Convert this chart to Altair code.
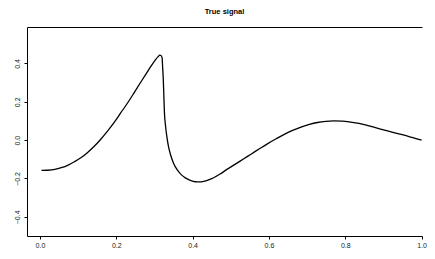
import altair as alt
import pandas as pd

x_vals = [0.004, 0.02, 0.039, 0.056, 0.074, 0.09, 0.108, 0.125, 0.143, 0.16,
          0.177, 0.195, 0.212, 0.23, 0.247, 0.264, 0.281, 0.292, 0.303, 0.309,
          0.314, 0.317, 0.320, 0.3215, 0.323, 0.3245, 0.326, 0.329, 0.333, 0.337,
          0.342, 0.350, 0.359, 0.370, 0.381, 0.394, 0.407, 0.418, 0.429, 0.442,
          0.455, 0.472, 0.489, 0.51, 0.532, 0.554, 0.576, 0.597, 0.619, 0.640,
          0.662, 0.684, 0.706, 0.727, 0.749, 0.770, 0.792, 0.814, 0.836, 0.857,
          0.879, 0.90, 0.922, 0.943, 0.965, 0.983, 1.0]
y_vals = [-0.158, -0.157, -0.153, -0.144, -0.130, -0.113, -0.091, -0.064, -0.031, 0.006,
          0.047, 0.094, 0.143, 0.195, 0.248, 0.302, 0.355, 0.389, 0.420, 0.434,
          0.443, 0.441, 0.430, 0.380, 0.325, 0.240, 0.151, 0.075, 0.012, -0.035,
          -0.075, -0.120, -0.153, -0.180, -0.197, -0.210, -0.217, -0.218, -0.215, -0.207,
          -0.196, -0.177, -0.154, -0.128, -0.100, -0.072, -0.044, -0.018, 0.007, 0.030,
          0.051, 0.068, 0.082, 0.092, 0.098, 0.100, 0.099, 0.094, 0.087, 0.077,
          0.065, 0.054, 0.042, 0.031, 0.020, 0.009, 0.0]
x_ticks = [0.0, 0.2, 0.4, 0.6, 0.8, 1.0]
y_ticks = [-0.4, -0.2, 0.0, 0.2, 0.4]

df = pd.DataFrame({"x": x_vals, "y": y_vals})

FONT = "Liberation Sans"
W, H = 395, 209
x_dom = [-0.0339, 1.001]
y_dom = [-0.50, 0.59]

axis_common = dict(title=None, grid=False, tickSize=3, labelFontSize=7, labelFont=FONT,
                   labelColor="#222", domainColor="black", tickColor="black",
                   labelFlush=False, format=".1f")

line = alt.Chart(df).mark_line(color="black", strokeWidth=1.3, interpolate="monotone").encode(
    x=alt.X("x:Q", scale=alt.Scale(domain=x_dom, nice=False, zero=False),
            axis=alt.Axis(values=x_ticks, labelPadding=2, orient="bottom", **axis_common)),
    y=alt.Y("y:Q", scale=alt.Scale(domain=y_dom, nice=False, zero=False),
            axis=alt.Axis(values=y_ticks, labelPadding=4, labelAngle=-90,
                          labelAlign="center", labelBaseline="bottom", **axis_common)),
)

top = alt.Chart(df).mark_point(opacity=0).encode(
    x=alt.X("x:Q", scale=alt.Scale(domain=x_dom, nice=False, zero=False),
            axis=alt.Axis(orient="top", labels=False, ticks=False, domain=True,
                          domainColor="black", title=None, grid=False)),
)

chart = alt.layer(line, top).resolve_axis(x="independent").properties(
    width=W, height=H,
    title=alt.TitleParams("True signal", font=FONT, fontSize=7.5, fontWeight="bold",
                          anchor="middle", offset=12, color="black"),
    autosize=alt.AutoSizeParams(type="none"),
    padding={"left": 19, "top": 19, "right": 5, "bottom": 15},
).configure_view(stroke=None)

chart.save("out.html", embed_options={"renderer": "svg", "actions": False})
